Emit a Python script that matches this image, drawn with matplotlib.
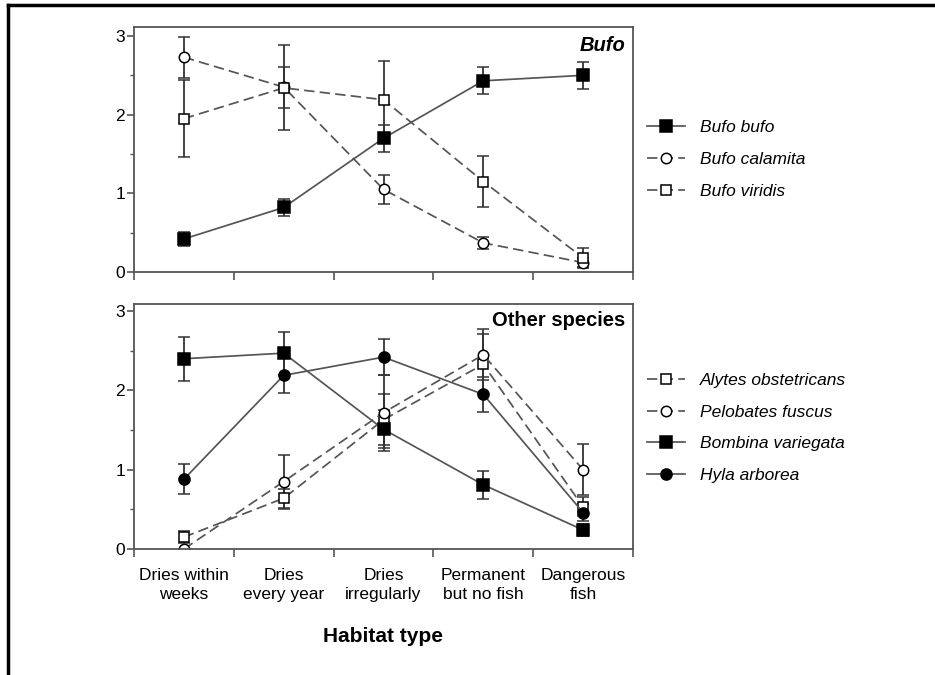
import matplotlib
matplotlib.use("Agg")
import matplotlib.pyplot as plt
from matplotlib.lines import Line2D

plt.rcParams['font.family'] = ['Liberation Sans', 'DejaVu Sans']

# habitat categories
categories = ['Dries within\nweeks', 'Dries\nevery year', 'Dries\nirregularly',
              'Permanent\nbut no fish', 'Dangerous\nfish']
x = [1, 2, 3, 4, 5]

# top panel: Bufo
bufo_bufo = [0.42, 0.82, 1.70, 2.43, 2.50]
bufo_bufo_err = [0.09, 0.11, 0.17, 0.17, 0.17]
bufo_calamita = [2.73, 2.35, 1.05, 0.37, 0.12]
bufo_calamita_err = [0.26, 0.26, 0.18, 0.08, 0.06]
bufo_viridis = [1.95, 2.34, 2.19, 1.15, 0.18]
bufo_viridis_err = [0.49, 0.54, 0.49, 0.33, 0.13]
top_labels = ['Bufo bufo', 'Bufo calamita', 'Bufo viridis']

# bottom panel: other species
alytes = [0.15, 0.64, 1.63, 2.33, 0.53]
alytes_err = [0.08, 0.12, 0.32, 0.38, 0.12]
pelobates = [0.00, 0.85, 1.72, 2.45, 1.00]
pelobates_err = [0.00, 0.34, 0.48, 0.32, 0.32]
bombina = [2.40, 2.47, 1.51, 0.81, 0.24]
bombina_err = [0.28, 0.27, 0.24, 0.18, 0.07]
hyla = [0.88, 2.19, 2.42, 1.95, 0.46]
hyla_err = [0.19, 0.22, 0.23, 0.22, 0.11]
bottom_labels = ['Alytes obstetricans', 'Pelobates fuscus', 'Bombina variegata', 'Hyla arborea']

LINE = '#555555'
ERR = '#333333'
SPINE = '#555555'
DASH = (0, (6, 3))

fig = plt.figure(figsize=(9.35, 6.75), dpi=100)
ax1 = fig.add_axes([134/935, 1-272/675, 499/935, 245/675])
ax2 = fig.add_axes([134/935, 1-549/675, 499/935, 245/675])


def draw(ax, y, err, marker, filled, dashed, ms):
    cont = ax.errorbar(x, y, yerr=err, color=LINE, ecolor=ERR, elinewidth=1.3,
                       capsize=4, capthick=1.3, lw=1.25,
                       ls=DASH if dashed else '-',
                       marker=marker, ms=ms, mec='black', mew=1.1,
                       mfc='black' if filled else 'white')
    return cont.lines[0]


def style(ax, ytop):
    ax.set_xlim(0.5, 5.5)
    ax.set_ylim(0, ytop)
    for s in ax.spines.values():
        s.set_color(SPINE)
        s.set_linewidth(1.3)
    ax.set_yticks([0, 1, 2, 3])
    ax.set_yticks([0.5, 1.5, 2.5], minor=True)
    ax.tick_params(axis='y', which='major', length=5, width=1.2, color=SPINE,
                   pad=1.5, labelsize=12.5)
    ax.tick_params(axis='y', which='minor', length=3, width=1.0, color=SPINE)
    ax.set_xticks([0.5, 1.5, 2.5, 3.5, 4.5, 5.5])
    ax.set_xticklabels([])
    ax.tick_params(axis='x', which='major', length=6, width=1.2, color=SPINE)


# top panel
h1 = [
    draw(ax1, bufo_bufo, bufo_bufo_err, 's', True, False, 8),
    draw(ax1, bufo_calamita, bufo_calamita_err, 'o', False, True, 7.5),
    draw(ax1, bufo_viridis, bufo_viridis_err, 's', False, True, 7),
]
style(ax1, 3.114)
ax1.text(0.985, 0.965, 'Bufo', transform=ax1.transAxes, ha='right', va='top',
         fontsize=14.5, fontweight='bold', fontstyle='italic')

# bottom panel
h2 = [
    draw(ax2, alytes, alytes_err, 's', False, True, 7),
    draw(ax2, pelobates, pelobates_err, 'o', False, True, 7.5),
    draw(ax2, bombina, bombina_err, 's', True, False, 8),
    draw(ax2, hyla, hyla_err, 'o', True, False, 8),
]
style(ax2, 3.09)
ax2.set_xticks(x, minor=True)
ax2.set_xticklabels(categories, minor=True, linespacing=1.3)
ax2.tick_params(axis='x', which='minor', length=0, pad=14, labelsize=12.5)
ax2.text(0.985, 0.97, 'Other species', transform=ax2.transAxes, ha='right', va='top',
         fontsize=14.5, fontweight='bold')

for handles, labels, ycen in [(h1, top_labels, 1-159.5/675), (h2, bottom_labels, 1-428/675)]:
    fig.legend(handles, labels, loc='center left', bbox_to_anchor=(647/935, ycen),
               frameon=False, borderpad=0, borderaxespad=0, handlelength=2.2,
               handletextpad=0.85, labelspacing=0.95,
               prop={'size': 12.5, 'style': 'italic'})

fig.text(383/935, 1-636/675, 'Habitat type', ha='center', va='center',
         fontsize=15, fontweight='bold')

# frame lines at the top and left of the figure
fig.add_artist(Line2D([8/935, 1.0], [1-5/675, 1-5/675], color='black', lw=2.5))
fig.add_artist(Line2D([8/935, 8/935], [1-5/675, 0.0], color='black', lw=2.5))

fig.savefig('out.png', dpi=100)
